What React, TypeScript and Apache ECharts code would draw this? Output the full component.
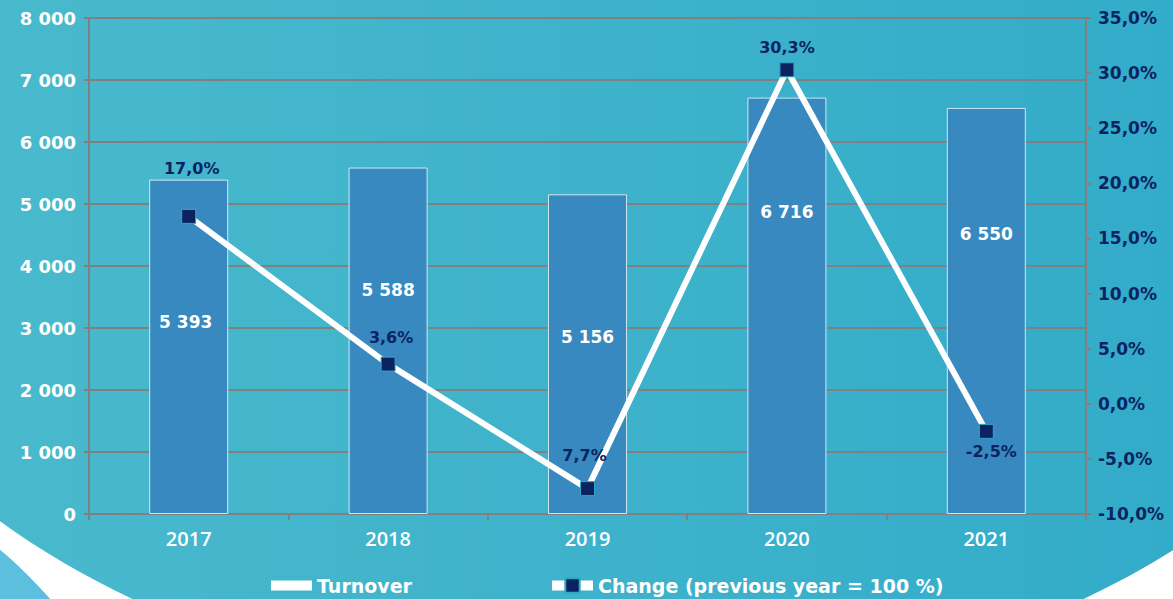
import React, { useEffect, useRef } from "react";
import * as echarts from "echarts";

const years = ["2017", "2018", "2019", "2020", "2021"];
const turnover = [5393, 5588, 5156, 6716, 6550];
const change = [17.0, 3.6, -7.7, 30.3, -2.5];
const changeLabels = ["17,0%", "3,6%", "7,7%", "30,3%", "-2,5%"];
const seriesNames = ["Turnover", "Change (previous year = 100 %)"];

const NAVY = "#0B2461";
const BAR = "#3889C0";
const GRID = "#808080";

// label placement tweaks (styling only)
const barLabelOffsets = [[-3, -25], [0, -51], [0, -17], [0, -94], [0, -77]];
const lineLabelPos = ["top", "top", "top", "top", "bottom"];
const lineLabelOffsets = [[3, -27], [3, -6], [-3, -13], [0, -2], [5, 0]];

const fmtThousands = (v: number) =>
  String(Math.round(v)).replace(/\B(?=(\d{3})+(?!\d))/g, " ");
const fmtPct = (v: number) => v.toFixed(1).replace(".", ",") + "%";

export default function App() {
  const ref = useRef<HTMLDivElement>(null);
  useEffect(() => {
    if (!ref.current) return;
    const chart = echarts.init(ref.current, undefined, { renderer: "svg" });
    chart.setOption({
      animation: false,
      backgroundColor: "#ffffff",
      graphic: {
        elements: [
          {
            type: "circle",
            z: -20,
            silent: true,
            shape: { cx: -300, cy: 905, r: 465 },
            style: { fill: "#5DBFDE" },
          },
          {
            type: "ellipse",
            z: -10,
            silent: true,
            shape: { cx: 608, cy: 140, rx: 830, ry: 560 },
            style: {
              fill: {
                type: "linear",
                x: 0,
                y: 0,
                x2: 1173,
                y2: 0,
                global: true,
                colorStops: [
                  { offset: 0, color: "#49B9CD" },
                  { offset: 1, color: "#33ACC9" },
                ],
              },
            },
          },
        ],
      },
      grid: { left: 89, right: 87, top: 18, bottom: 85 },
      legend: {
        left: 266,
        top: 571,
        itemWidth: 41,
        itemHeight: 18,
        itemGap: 135,
        textStyle: {
          color: "#ffffff",
          fontFamily: "DejaVu Sans",
          fontWeight: "bold",
          fontSize: 19,
        },
        data: [
          {
            name: seriesNames[0],
            icon: "path://M0,0M0,4h41v10h-41zM41,18",
            itemStyle: { color: "#ffffff", borderWidth: 0 },
          },
          {
            name: seriesNames[1],
            lineStyle: { width: 10, color: "#ffffff" },
          },
        ],
      },
      xAxis: {
        type: "category",
        data: years,
        boundaryGap: true,
        axisLine: { lineStyle: { color: GRID, width: 2 } },
        axisTick: { show: true, length: 6, lineStyle: { color: GRID, width: 2 } },
        axisLabel: {
          color: "#ffffff",
          fontFamily: "Open Sans",
          fontWeight: 600,
          fontSize: 20,
          margin: 14,
        },
      },
      yAxis: [
        {
          type: "value",
          min: 0,
          max: 8000,
          interval: 1000,
          axisLine: { show: true, lineStyle: { color: GRID, width: 2 } },
          axisTick: { show: true, length: 5, lineStyle: { color: GRID, width: 2 } },
          splitLine: { show: true, lineStyle: { color: GRID, width: 2 } },
          axisLabel: {
            color: "#ffffff",
            fontFamily: "DejaVu Sans",
            fontWeight: "bold",
            fontSize: 18,
            margin: 13,
            formatter: (v: number) => fmtThousands(v),
          },
        },
        {
          type: "value",
          min: -10,
          max: 35,
          interval: 5,
          position: "right",
          axisLine: { show: true, lineStyle: { color: GRID, width: 2 } },
          axisTick: { show: true, length: 5, lineStyle: { color: GRID, width: 2 } },
          splitLine: { show: false },
          axisLabel: {
            color: NAVY,
            fontFamily: "DejaVu Sans",
            fontWeight: "bold",
            fontSize: 17,
            margin: 12,
            formatter: (v: number) => fmtPct(v),
          },
        },
      ],
      series: [
        {
          name: seriesNames[0],
          type: "bar",
          yAxisIndex: 0,
          barWidth: 79,
          itemStyle: { color: BAR, borderColor: "#CFE8F0", borderWidth: 1 },
          label: {
            show: true,
            position: "inside",
            color: "#ffffff",
            fontFamily: "DejaVu Sans",
            fontWeight: "bold",
            fontSize: 17,
            formatter: (p: any) => fmtThousands(p.value),
          },
          data: turnover.map((v, i) => ({
            value: v,
            label: { offset: barLabelOffsets[i] },
          })),
        },
        {
          name: seriesNames[1],
          type: "line",
          yAxisIndex: 1,
          symbol: "rect",
          symbolSize: 14,
          lineStyle: { color: "#ffffff", width: 6 },
          itemStyle: { color: NAVY, borderColor: "#2FA9C6", borderWidth: 1 },
          label: {
            show: true,
            color: NAVY,
            fontFamily: "DejaVu Sans",
            fontWeight: "bold",
            fontSize: 16,
          },
          data: change.map((v, i) => ({
            value: v,
            label: {
              position: lineLabelPos[i],
              offset: lineLabelOffsets[i],
              formatter: changeLabels[i],
            },
          })),
          z: 3,
        },
      ],
    });
    return () => chart.dispose();
  }, []);
  return (
    <div
      ref={ref}
      style={{ position: "fixed", left: 0, top: 0, width: 1173, height: 599 }}
    />
  );
}
